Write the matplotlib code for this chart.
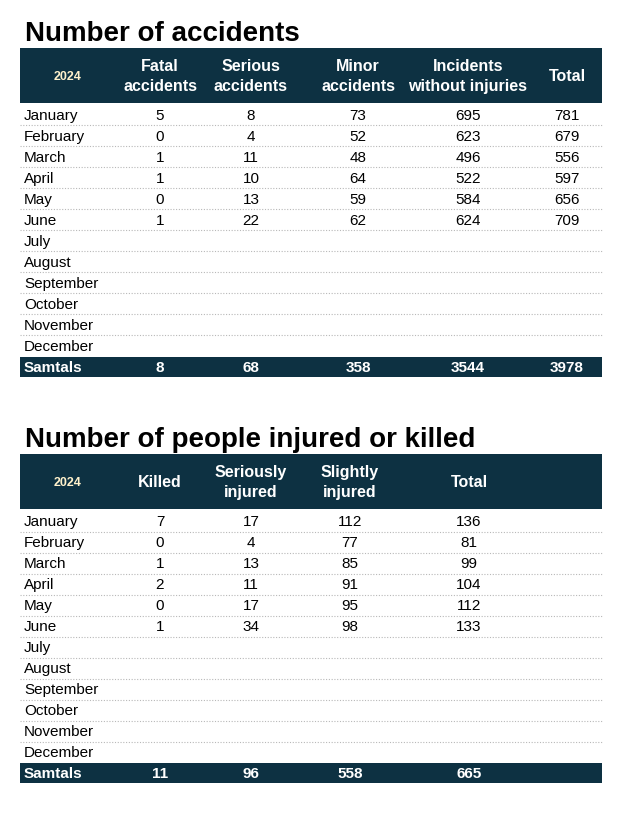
import matplotlib
matplotlib.use("Agg")
import matplotlib.pyplot as plt

plt.rcParams['font.family'] = ['Liberation Sans', 'DejaVu Sans']

months = ["January", "February", "March", "April", "May", "June", "July",
          "August", "September", "October", "November", "December"]
year = "2024"

# table 1
acc_title = "Number of accidents"
acc_cols = ["Fatal\naccidents", "Serious\naccidents", "Minor\naccidents",
            "Incidents\nwithout injuries", "Total"]
fatal = [5, 0, 1, 1, 0, 1]
serious = [8, 4, 11, 10, 13, 22]
minor = [73, 52, 48, 64, 59, 62]
no_injury = [695, 623, 496, 522, 584, 624]
acc_total = [781, 679, 556, 597, 656, 709]
acc_sum = [8, 68, 358, 3544, 3978]

# table 2
inj_title = "Number of people injured or killed"
inj_cols = ["Killed", "Seriously\ninjured", "Slightly\ninjured", "Total"]
killed = [7, 0, 1, 2, 0, 1]
ser_inj = [17, 4, 13, 11, 17, 34]
sli_inj = [112, 77, 85, 91, 95, 98]
inj_total = [136, 81, 99, 104, 112, 133]
inj_sum = [11, 96, 558, 665]

dark = "#0d3142"
cream = "#fff2cc"

fig = plt.figure(figsize=(6.27, 8.13), dpi=100)
ax = fig.add_axes([0, 0, 1, 1])
ax.set_xlim(0, 627)
ax.set_ylim(813, 0)
ax.axis("off")

x0, x1 = 20, 602
row_h = 21


def draw_table(top, title, cols, col_x, series, sums):
    ax.text(25, top - 7, title, fontsize=20, fontweight="bold",
            va="baseline", ha="left")
    head_top = top
    head_bot = top + 55
    ax.fill_between([x0, x1], head_top, head_bot, color=dark, lw=0)
    ax.text(68, (head_top + head_bot) / 2 + 1, year, color=cream, fontsize=9,
            fontweight="bold", ha="center", va="center")
    for name, cx in zip(cols, col_x):
        ax.text(cx, (head_top + head_bot) / 2 + 1, name, color="white",
                fontsize=11.5, fontweight="bold", ha="center", va="center",
                linespacing=1.35)
    y_first = head_bot + 13
    for i, m in enumerate(months):
        yc = y_first + i * row_h
        ax.text(24, yc, m, fontsize=11, ha="left", va="center")
        for vals, cx in zip(series, col_x):
            if i < len(vals):
                ax.text(cx, yc, str(vals[i]), fontsize=11,
                        ha="center", va="center")
        if i < len(months) - 1:
            ax.plot([x0, x1], [yc + 9.5, yc + 9.5], color="#b8b8b8",
                    lw=0.8, ls=(0, (1, 1.5)))
    yc = y_first + len(months) * row_h
    ax.fill_between([x0, x1], yc - 11, yc + 9, color=dark, lw=0)
    ax.text(24, yc, "Samtals", color="white", fontsize=11,
            fontweight="bold", ha="left", va="center")
    for v, cx in zip(sums, col_x):
        ax.text(cx, yc, str(v), color="white", fontsize=11,
                fontweight="bold", ha="center", va="center")


draw_table(48, acc_title, acc_cols, [160, 251, 358, 468, 567],
           [fatal, serious, minor, no_injury, acc_total], acc_sum)
draw_table(454, inj_title, inj_cols, [160, 251, 350, 469],
           [killed, ser_inj, sli_inj, inj_total], inj_sum)

fig.savefig("out.png", dpi=100)
